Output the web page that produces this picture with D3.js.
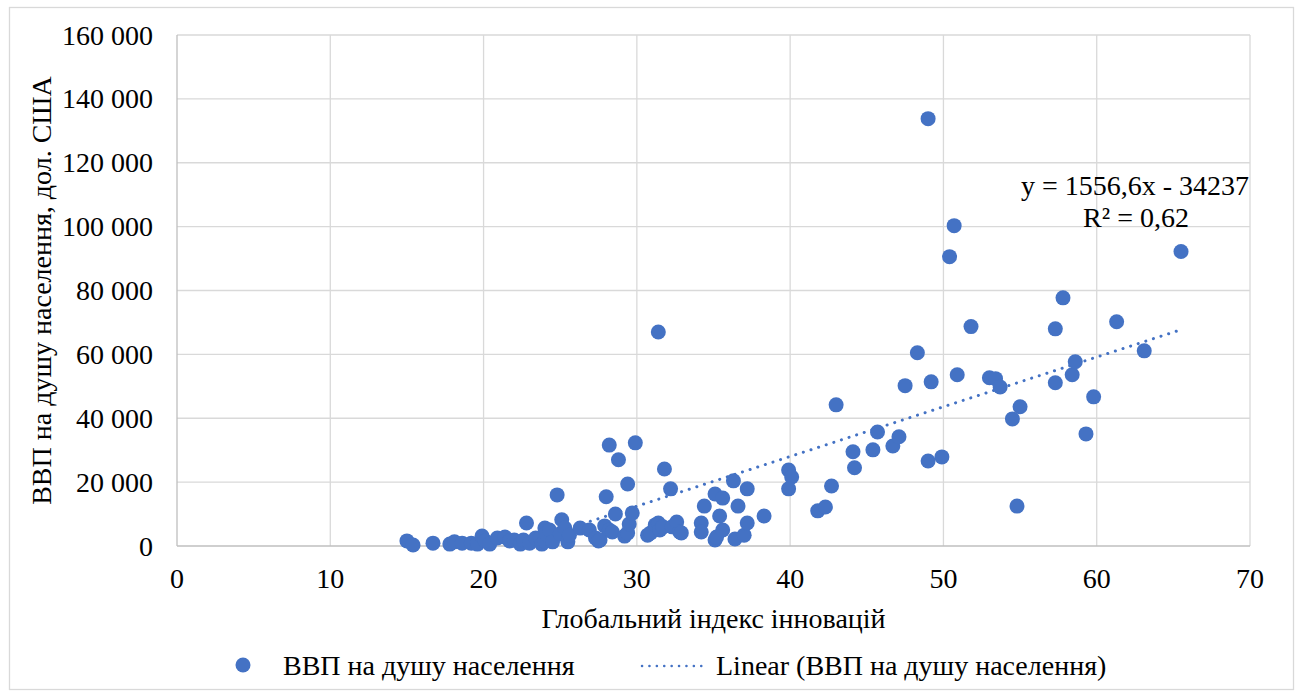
<!DOCTYPE html>
<html>
  <head>
    <meta charset="utf-8" />
    <script src="https://d3js.org/d3.v7.min.js"></script>
    <style>
      body { margin: 0; background: #fff; }
    </style>
  </head>
  <body>
    <div id="chart"></div>
    <script>
      // Global Innovation Index (x) vs GDP per capita, USD (y)
      const gii = [
        15.0, 15.4, 16.7, 17.8, 18.1, 18.6, 19.2, 19.6, 19.9, 20.1,
        20.4, 20.9, 21.4, 21.7, 22.0, 22.4, 22.6, 22.8, 23.0, 23.4,
        23.7, 23.8, 24.0, 24.0, 24.1, 24.3, 24.5, 24.8, 25.0, 25.1,
        25.3, 25.5, 25.6, 26.3, 26.9, 27.3, 27.5, 27.6, 27.9, 28.0,
        28.2, 28.2, 28.4, 28.6, 28.8, 29.2, 29.4, 29.4, 29.5, 29.7,
        29.9, 30.7, 30.9, 31.2, 31.4, 31.4, 31.5, 31.7, 31.8, 32.2,
        32.3, 32.6, 32.8, 32.9, 34.2, 34.2, 34.4, 35.1, 35.1, 35.2,
        35.4, 35.6, 35.6, 36.3, 36.4, 36.6, 37.0, 37.2, 37.2, 38.3,
        39.9, 40.1, 39.9, 41.8, 42.3, 42.7, 43.0, 44.1, 44.2, 45.4,
        45.7, 46.7, 47.1, 47.5, 48.3, 49.0, 49.0, 49.2, 49.9, 50.4,
        50.7, 50.9, 51.8, 53.0, 53.4, 53.7, 54.5, 54.8, 55.0, 57.3,
        57.3, 57.8, 58.4, 58.6, 59.3, 59.8, 61.3, 63.1, 65.5
      ];
      const gdp = [
        1600, 300, 900, 600, 1300, 900, 900, 600, 3100, 1600,
        600, 2500, 2800, 1600, 1900, 600, 1900, 7200, 900, 2500,
        2500, 600, 1500, 5600, 3800, 5000, 1300, 16000, 3800, 8200,
        5600, 1300, 3400, 5600, 5000, 2500, 1600, 1900, 6300, 15400,
        31600, 5000, 4400, 10000, 27000, 3100, 19400, 4100, 6900, 10300,
        32300, 3400, 4100, 6600, 67000, 7200, 5000, 6000, 24100, 17900,
        6000, 7500, 4400, 4100, 7200, 4400, 12500, 16300, 1900, 2800,
        9400, 15000, 5000, 20400, 2200, 12500, 3400, 17900, 7200, 9400,
        23800, 21600, 17900, 11000, 12200, 18800, 44200, 29500, 24500, 30100,
        35700, 31300, 34200, 50200, 60500, 133800, 26600, 51400, 27900, 90600,
        100300, 53600, 68700, 52700, 52400, 49800, 39800, 12500, 43600, 68000,
        51100, 77700, 53600, 57700, 35100, 46700, 70200, 61100, 92200
      ];
      const xTicks = [0, 10, 20, 30, 40, 50, 60, 70];
      const yTicks = [0, 20000, 40000, 60000, 80000, 100000, 120000, 140000, 160000];
      // trend line coefficients (Excel linear fit)
      const slope = 1556.6;
      const intercept = -34237;
      const eqLabel = "y = 1556,6x - 34237";
      const r2Label = "R² = 0,62";
      const xTitle = "Глобальний індекс інновацій";
      const yTitle = "ВВП на душу населення, дол. США";
      const seriesName = "ВВП на душу населення";
      const trendName = "Linear (ВВП на душу населення)";

      const W = 1300, H = 697;
      const m = { left: 177, right: 1250, top: 35, bottom: 546 };
      const blue = "#4472C4";
      const grid = "#d9d9d9";
      const FONT = "'Liberation Serif', 'Times New Roman', serif";
      const FS = 28;

      const svg = d3.select("#chart").append("svg")
        .attr("width", W).attr("height", H)
        .attr("font-family", FONT).attr("font-size", FS);

      // outer chart border
      svg.append("rect")
        .attr("x", 9.5).attr("y", 7.5)
        .attr("width", 1284).attr("height", 682)
        .attr("fill", "#fff").attr("stroke", grid).attr("stroke-width", 1.3);

      const x = d3.scaleLinear().domain([0, 70]).range([m.left, m.right]);
      const y = d3.scaleLinear().domain([0, 160000]).range([m.bottom, m.top]);

      const fmt = d3.formatLocale({ thousands: " ", grouping: [3], decimal: ",", currency: ["", ""] }).format(",d");

      // gridlines
      svg.append("g").selectAll("line").data(yTicks.slice(1)).join("line")
        .attr("x1", m.left).attr("x2", m.right)
        .attr("y1", d => y(d)).attr("y2", d => y(d))
        .attr("stroke", grid).attr("stroke-width", 1.3);
      svg.append("g").selectAll("line").data(xTicks.slice(1)).join("line")
        .attr("x1", d => x(d)).attr("x2", d => x(d))
        .attr("y1", m.top).attr("y2", m.bottom)
        .attr("stroke", grid).attr("stroke-width", 1.3);

      // axis lines
      svg.append("line").attr("x1", m.left).attr("x2", m.left).attr("y1", m.top).attr("y2", m.bottom)
        .attr("stroke", "#bfbfbf").attr("stroke-width", 1.3);
      svg.append("line").attr("x1", m.left).attr("x2", m.right).attr("y1", m.bottom).attr("y2", m.bottom)
        .attr("stroke", "#bfbfbf").attr("stroke-width", 1.3);

      // tick labels
      svg.append("g").selectAll("text").data(yTicks).join("text")
        .attr("x", 153).attr("y", d => y(d)).attr("dy", "0.34em")
        .attr("text-anchor", "end").attr("fill", "#000")
        .text(d => fmt(d));
      svg.append("g").selectAll("text").data(xTicks).join("text")
        .attr("x", d => x(d)).attr("y", 588)
        .attr("text-anchor", "middle").attr("fill", "#000")
        .text(d => d);

      // axis titles
      svg.append("text")
        .attr("x", x(35)).attr("y", 628)
        .attr("text-anchor", "middle").text(xTitle);
      svg.append("text")
        .attr("transform", `translate(51,${(m.top + m.bottom) / 2}) rotate(-90)`)
        .attr("text-anchor", "middle").text(yTitle);

      // trend line, from where it crosses 0 to the largest x
      const xStart = -intercept / slope;
      const xEnd = d3.max(gii);
      svg.append("line")
        .attr("x1", x(xStart)).attr("y1", y(slope * xStart + intercept))
        .attr("x2", x(xEnd)).attr("y2", y(slope * xEnd + intercept))
        .attr("stroke", blue).attr("stroke-width", 3)
        .attr("stroke-linecap", "round").attr("stroke-dasharray", "0.1 7.9");

      // points
      svg.append("g").selectAll("circle").data(d3.zip(gii, gdp)).join("circle")
        .attr("cx", d => x(d[0])).attr("cy", d => y(d[1]))
        .attr("r", 7.5).attr("fill", blue);

      // equation label
      svg.append("text").attr("x", 1249).attr("y", 195)
        .attr("text-anchor", "end").text(eqLabel);
      svg.append("text").attr("x", 1136).attr("y", 227)
        .attr("text-anchor", "middle").text(r2Label);

      // legend
      const lg = svg.append("g");
      lg.append("circle").attr("cx", 243).attr("cy", 665).attr("r", 7.5).attr("fill", blue);
      lg.append("text").attr("x", 283).attr("y", 675).text(seriesName);
      lg.append("line").attr("x1", 642).attr("x2", 708).attr("y1", 666).attr("y2", 666)
        .attr("stroke", blue).attr("stroke-width", 2.5)
        .attr("stroke-linecap", "round").attr("stroke-dasharray", "0.1 7.3");
      lg.append("text").attr("x", 716).attr("y", 675).text(trendName);
    </script>
  </body>
</html>
